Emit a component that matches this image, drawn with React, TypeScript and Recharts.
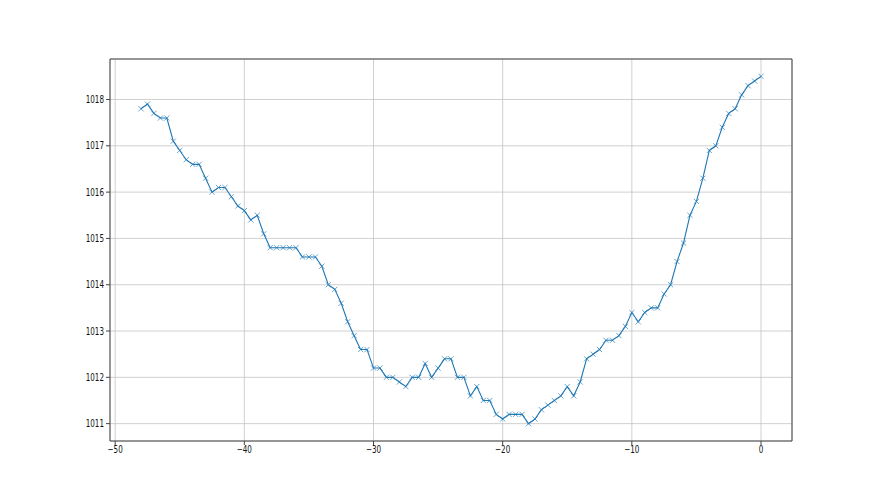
import { LineChart, Line, XAxis, YAxis, CartesianGrid, ReferenceArea } from 'recharts';

// hours before now
const hoursAgo = [
  -48, -47.5, -47, -46.5, -46, -45.5, -45, -44.5, -44, -43.5,
  -43, -42.5, -42, -41.5, -41, -40.5, -40, -39.5, -39, -38.5,
  -38, -37.5, -37, -36.5, -36, -35.5, -35, -34.5, -34, -33.5,
  -33, -32.5, -32, -31.5, -31, -30.5, -30, -29.5, -29, -28.5,
  -28, -27.5, -27, -26.5, -26, -25.5, -25, -24.5, -24, -23.5,
  -23, -22.5, -22, -21.5, -21, -20.5, -20, -19.5, -19, -18.5,
  -18, -17.5, -17, -16.5, -16, -15.5, -15, -14.5, -14, -13.5,
  -13, -12.5, -12, -11.5, -11, -10.5, -10, -9.5, -9, -8.5,
  -8, -7.5, -7, -6.5, -6, -5.5, -5, -4.5, -4, -3.5,
  -3, -2.5, -2, -1.5, -1, -0.5, 0,
];

// pressure readings (hPa)
const pressure = [
  1017.8, 1017.9, 1017.7, 1017.6, 1017.6, 1017.1, 1016.9, 1016.7, 1016.6, 1016.6,
  1016.3, 1016.0, 1016.1, 1016.1, 1015.9, 1015.7, 1015.6, 1015.4, 1015.5, 1015.1,
  1014.8, 1014.8, 1014.8, 1014.8, 1014.8, 1014.6, 1014.6, 1014.6, 1014.4, 1014.0,
  1013.9, 1013.6, 1013.2, 1012.9, 1012.6, 1012.6, 1012.2, 1012.2, 1012.0, 1012.0,
  1011.9, 1011.8, 1012.0, 1012.0, 1012.3, 1012.0, 1012.2, 1012.4, 1012.4, 1012.0,
  1012.0, 1011.6, 1011.8, 1011.5, 1011.5, 1011.2, 1011.1, 1011.2, 1011.2, 1011.2,
  1011.0, 1011.1, 1011.3, 1011.4, 1011.5, 1011.6, 1011.8, 1011.6, 1011.9, 1012.4,
  1012.5, 1012.6, 1012.8, 1012.8, 1012.9, 1013.1, 1013.4, 1013.2, 1013.4, 1013.5,
  1013.5, 1013.8, 1014.0, 1014.5, 1014.9, 1015.5, 1015.8, 1016.3, 1016.9, 1017.0,
  1017.4, 1017.7, 1017.8, 1018.1, 1018.3, 1018.4, 1018.5,
];

const xTicks = [-50, -40, -30, -20, -10, 0];
const yTicks = [1011, 1012, 1013, 1014, 1015, 1016, 1017, 1018];

const data = hoursAgo.map((h, i) => ({ h, p: pressure[i] }));

const BLUE = '#1f77b4';
const SPINE = '#444';
const FONT = 'DejaVu Sans, sans-serif';

const minus = (v: number) => String(v).replace('-', '\u2212');

const XTick = ({ x, y, payload }: any) => (
  <g transform={`translate(${x},${y})`}>
    <text x={0} y={0} dy={8} textAnchor="middle" fontSize={10} fontFamily={FONT} fill="#111" transform="scale(0.72,1)">
      {minus(payload.value)}
    </text>
  </g>
);

const YTick = ({ x, y, payload }: any) => (
  <g transform={`translate(${x - 2},${y})`}>
    <text x={0} y={0} dy={3.6} textAnchor="end" fontSize={10} fontFamily={FONT} fill="#111" transform="scale(0.72,1)">
      {payload.value}
    </text>
  </g>
);

const Cross = (props: any) => {
  const { cx, cy, index } = props;
  const s = 2.6;
  return (
    <path
      key={`x-${index}`}
      d={`M${cx - s},${cy - s}L${cx + s},${cy + s}M${cx - s},${cy + s}L${cx + s},${cy - s}`}
      stroke={BLUE}
      strokeOpacity={0.75}
      strokeWidth={0.9}
      fill="none"
    />
  );
};

export default function App() {
  return (
    <div style={{ position: 'absolute', left: 0, top: 0, width: 880, height: 495, background: '#fff' }}>
      <LineChart width={880} height={495} data={data} margin={{ top: 59, right: 88, left: 60, bottom: 24 }}>
        <CartesianGrid stroke="#c4c4c4" strokeWidth={0.8} />
        <XAxis
          dataKey="h"
          type="number"
          domain={[-50.4, 2.4]}
          ticks={xTicks}
          allowDataOverflow
          height={30}
          tickSize={4}
          tickMargin={0}
          axisLine={false}
          tickLine={{ stroke: SPINE }}
          tick={<XTick />}
        />
        <YAxis
          type="number"
          domain={[1010.625, 1018.875]}
          ticks={yTicks}
          allowDataOverflow
          width={50}
          tickSize={4}
          tickMargin={0}
          axisLine={false}
          tickLine={{ stroke: SPINE }}
          tick={<YTick />}
        />
        <Line
          dataKey="p"
          stroke={BLUE}
          strokeWidth={1.1}
          dot={<Cross />}
          activeDot={false}
          isAnimationActive={false}
        />
        <ReferenceArea
          x1={-50.4}
          x2={2.4}
          y1={1010.625}
          y2={1018.875}
          fill="none"
          stroke={SPINE}
          strokeWidth={1}
          ifOverflow="visible"
        />
      </LineChart>
    </div>
  );
}
